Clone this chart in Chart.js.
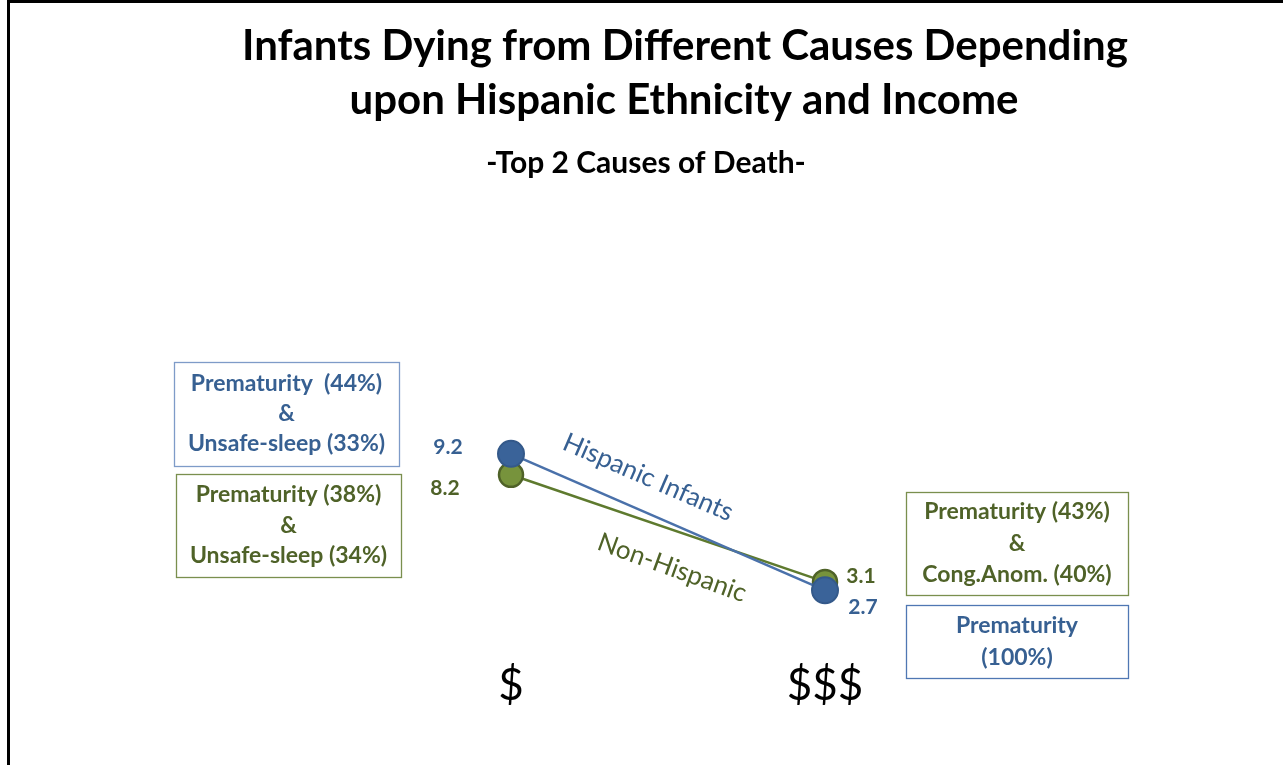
<!DOCTYPE html>
<html>
<head>
<meta charset="utf-8">
<title>Infants Dying from Different Causes</title>
<script src="https://cdn.jsdelivr.net/npm/chart.js@4.4.0/dist/chart.umd.min.js"></script>
<style>
    html, body { margin: 0; padding: 0; background: #fff; overflow: hidden; }
    #wrap { position: relative; width: 1283px; height: 765px; }
    #frame {
        position: absolute; left: 7px; top: 0; width: 1300px; height: 800px;
        border-left: 3px solid #000; border-top: 3px solid #000;
        box-sizing: border-box; pointer-events: none;
    }
</style>
</head>
<body>
<div id="wrap">
    <canvas id="chart" width="1283" height="765"></canvas>
    <div id="frame"></div>
</div>
<script>
// Chart data
const incomeLevels = ['$', '$$$'];
const hispanicRates = [9.2, 2.7];
const nonHispanicRates = [8.2, 3.1];

// Top causes of death per income level
const hispanicCauses = [
    ['Prematurity  (44%)', '&', 'Unsafe-sleep (33%)'],
    ['Prematurity', '(100%)']
];
const nonHispanicCauses = [
    ['Prematurity (38%)', '&', 'Unsafe-sleep (34%)'],
    ['Prematurity (43%)', '&', 'Cong.Anom. (40%)']
];

const titleLines = ['Infants Dying from Different Causes Depending', 'upon Hispanic Ethnicity and Income'];
const subtitleText = '-Top 2 Causes of Death-';

const FONT = "Lato, 'Open Sans', sans-serif";
const BLUE_TEXT = '#376092';
const GREEN_TEXT = '#4F6228';

// Boxes with cause text: [x, y, w, h], border color, text color, lines
const causeBoxes = [
    { rect: [174, 362, 225, 104], border: '#7E9BC8', color: BLUE_TEXT, lines: hispanicCauses[0], lh: 30 },
    { rect: [176, 474, 225, 103], border: '#7A8F4E', color: GREEN_TEXT, lines: nonHispanicCauses[0], lh: 30.5 },
    { rect: [906, 492, 222, 103], border: '#7A8F4E', color: GREEN_TEXT, lines: nonHispanicCauses[1], lh: 31.5 },
    { rect: [906, 605, 222, 73], border: '#4F77B3', color: BLUE_TEXT, lines: hispanicCauses[1], lh: 32 }
];

// Value label offsets from each point: [dx, dy]
const valueOffsets = [
    [[-63, -7], [38, 17]],   // Hispanic
    [[-66, 13], [36, -6]]    // Non-Hispanic
];

const annotationPlugin = {
    id: 'annotations',
    afterDraw(chart) {
        const ctx = chart.ctx;
        ctx.save();
        ctx.textAlign = 'center';
        ctx.textBaseline = 'middle';

        // Title
        ctx.fillStyle = '#000';
        ctx.font = 'bold 42px ' + FONT;
        ctx.fillText(titleLines[0], 685, 46);
        ctx.fillText(titleLines[1], 684, 100);
        ctx.font = 'bold 30px ' + FONT;
        ctx.fillText(subtitleText, 646, 163);

        // Cause boxes
        causeBoxes.forEach(b => {
            const [x, y, w, h] = b.rect;
            ctx.strokeStyle = b.border;
            ctx.lineWidth = 1.3;
            ctx.strokeRect(x + 0.5, y + 0.5, w, h);
            ctx.fillStyle = b.color;
            ctx.font = 'bold 23px ' + FONT;
            const n = b.lines.length;
            const cy = y + h / 2;
            b.lines.forEach((line, i) => {
                ctx.fillText(line, x + w / 2, cy + (i - (n - 1) / 2) * b.lh);
            });
        });

        // Value labels next to points
        ctx.font = 'bold 21px ' + FONT;
        chart.data.datasets.forEach((ds, di) => {
            const meta = chart.getDatasetMeta(di);
            meta.data.forEach((pt, i) => {
                const [dx, dy] = valueOffsets[di][i];
                ctx.fillStyle = ds.labelColor;
                ctx.fillText(ds.data[i].toFixed(1), pt.x + dx, pt.y + dy);
            });
        });

        // Series names along the lines
        chart.data.datasets.forEach((ds, di) => {
            const meta = chart.getDatasetMeta(di);
            const p0 = meta.data[0], p1 = meta.data[1];
            const ang = Math.atan2(p1.y - p0.y, p1.x - p0.x);
            const t = ds.nameAt[0], off = ds.nameAt[1];
            const mx = p0.x + (p1.x - p0.x) * t + Math.sin(ang) * off;
            const my = p0.y + (p1.y - p0.y) * t - Math.cos(ang) * off;
            ctx.save();
            ctx.translate(mx, my);
            ctx.rotate(ang + ds.nameTilt);
            ctx.fillStyle = ds.labelColor;
            ctx.font = '26px ' + FONT;
            ctx.fillText(ds.label, 0, 0);
            ctx.restore();
        });

        ctx.restore();
    }
};

const ctx = document.getElementById('chart').getContext('2d');

new Chart(ctx, {
    type: 'line',
    data: {
        labels: incomeLevels,
        datasets: [
            {
                label: 'Hispanic Infants',
                data: hispanicRates,
                borderColor: '#4A71AA',
                borderWidth: 2.5,
                pointRadius: 13,
                pointBackgroundColor: '#3A6399',
                pointBorderColor: '#34598A',
                pointBorderWidth: 2,
                labelColor: BLUE_TEXT,
                nameAt: [0.395, 33],
                nameTilt: 0
            },
            {
                label: 'Non-Hispanic',
                data: nonHispanicRates,
                borderColor: '#5E7A2E',
                borderWidth: 2.5,
                pointRadius: 12,
                pointBackgroundColor: '#77933C',
                pointBorderColor: '#4F6228',
                pointBorderWidth: 2.5,
                labelColor: GREEN_TEXT,
                nameAt: [0.55, -36],
                nameTilt: 0.02
            }
        ]
    },
    options: {
        responsive: false,
        animation: false,
        layout: {
            padding: { top: 227, left: 354, right: 301, bottom: 58 }
        },
        plugins: {
            legend: { display: false },
            tooltip: { enabled: false }
        },
        scales: {
            x: {
                offset: true,
                grid: { display: false, drawTicks: false },
                border: { display: false },
                afterFit(scale) { scale.height = 60; },
                ticks: {
                    color: '#000',
                    padding: 12,
                    font: { family: FONT, size: 44 }
                }
            },
            y: {
                display: false,
                min: 0,
                max: 20
            }
        }
    },
    plugins: [annotationPlugin]
});
</script>
</body>
</html>
